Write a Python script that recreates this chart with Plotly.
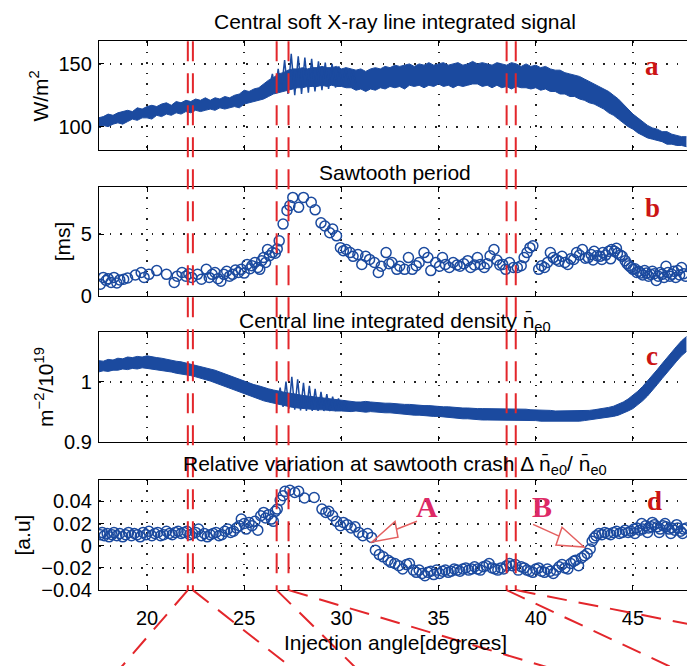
import plotly.graph_objects as go

# ---------------------------------------------------------------- data
# Injection angle grid (degrees) for the continuous signals
sig_x = [17.5, 17.75, 18.0, 18.25, 18.5, 18.75, 19.0, 19.25, 19.5, 19.75, 20.0, 20.25,
         20.5, 20.75, 21.0, 21.25, 21.5, 21.75, 22.0, 22.25, 22.5, 22.75, 23.0, 23.25,
         23.5, 23.75, 24.0, 24.25, 24.5, 24.75, 25.0, 25.25, 25.5, 25.75, 26.0, 26.25,
         26.5, 26.75, 27.0, 27.25, 27.5, 27.75, 28.0, 28.25, 28.5, 28.75, 29.0, 29.25,
         29.5, 29.75, 30.0, 30.25, 30.5, 30.75, 31.0, 31.25, 31.5, 31.75, 32.0, 32.25,
         32.5, 32.75, 33.0, 33.25, 33.5, 33.75, 34.0, 34.25, 34.5, 34.75, 35.0, 35.25,
         35.5, 35.75, 36.0, 36.25, 36.5, 36.75, 37.0, 37.25, 37.5, 37.75, 38.0, 38.25,
         38.5, 38.75, 39.0, 39.25, 39.5, 39.75, 40.0, 40.25, 40.5, 40.75, 41.0, 41.25,
         41.5, 41.75, 42.0, 42.25, 42.5, 42.75, 43.0, 43.25, 43.5, 43.75, 44.0, 44.25,
         44.5, 44.75, 45.0, 45.25, 45.5, 45.75, 46.0, 46.25, 46.5, 46.75, 47.0, 47.25,
         47.5, 47.75]

# (a) soft X-ray signal, lower / upper edge of the noisy trace [W/m^2]
sxr_lo = [99, 101, 100, 102, 103, 102, 104, 106, 105, 107, 107, 106,
          109, 108, 110, 109, 111, 110, 112, 111, 113, 112, 113, 114,
          113, 115, 114, 115, 116, 115, 118, 119, 120, 121, 122, 124,
          126, 127, 128, 129, 130, 131, 131, 132, 132, 132, 133, 132,
          133, 132, 132, 131, 131, 129, 130, 128, 130, 129, 131, 130,
          132, 131, 132, 130, 133, 132, 133, 131, 133, 132, 134, 132,
          133, 131, 133, 132, 133, 134, 134, 132, 133, 131, 133, 131,
          132, 130, 132, 131, 131, 130, 131, 129, 130, 128, 128, 126,
          126, 124, 124, 122, 121, 119, 118, 116, 114, 111, 109, 106,
          103, 100, 98, 95, 93, 91, 90, 89, 88, 86, 86, 85,
          85, 84]
sxr_hi = [107, 108, 110, 109, 111, 112, 113, 112, 115, 114, 116, 117,
          116, 118, 119, 117, 120, 119, 121, 120, 122, 121, 123, 121,
          123, 122, 124, 123, 125, 126, 129, 128, 130, 131, 134, 137,
          139, 142, 143, 145, 146, 146, 147, 146, 147, 147, 148, 147,
          147, 148, 146, 147, 146, 145, 146, 144, 146, 147, 146, 148,
          147, 149, 148, 149, 150, 148, 150, 149, 151, 149, 150, 151,
          149, 150, 151, 149, 150, 152, 150, 151, 150, 149, 151, 150,
          149, 151, 150, 148, 150, 148, 149, 147, 148, 146, 145, 145,
          143, 142, 141, 140, 138, 136, 134, 132, 130, 128, 125, 122,
          118, 114, 110, 107, 104, 101, 99, 98, 96, 96, 94, 93,
          92, 92]
# sawtooth oscillation on the soft X-ray signal (alternating crest / crash)
sxr_osc_x = [26.3, 26.45, 26.6, 26.75, 26.9, 27.08, 27.25, 27.42, 27.6, 27.78, 27.95,
             28.12, 28.3, 28.47, 28.64, 28.82, 29.0, 29.17, 29.34, 29.52, 29.7, 29.87,
             30.05, 30.22, 30.4, 30.57, 30.75]
sxr_osc_y = [132, 142, 130, 146, 128, 153, 126, 158, 125, 156, 126, 155, 127, 154, 128,
             152, 129, 151, 130, 150, 131, 148, 132, 147, 133, 145, 134]

# (b) sawtooth period [ms]
st_x = [17.6, 17.75, 17.9, 18.0, 18.15, 18.3, 18.45, 18.6, 18.8, 19.0, 19.4, 19.7,
        19.85, 20.1, 20.5, 21.0, 21.4, 21.55, 21.8, 22.0, 22.15, 22.3, 22.6, 22.8,
        23.05, 23.2, 23.35, 23.5, 23.65, 23.8, 23.95, 24.1, 24.25, 24.4, 24.55, 24.7,
        24.85, 25.0, 25.15, 25.3, 25.4, 25.55, 25.7, 25.8, 25.9, 26.0, 26.1, 26.2,
        26.3, 26.45, 26.6, 26.7, 26.8, 27.0, 27.2, 27.35, 27.5, 27.8, 28.05, 28.45,
        28.65, 28.95, 29.15, 29.4, 29.55, 29.75, 29.95, 30.1, 30.25, 30.45, 30.6,
        30.85, 31.05, 31.25, 31.45, 31.7, 31.9, 32.05, 32.3, 32.45, 32.6, 32.85, 33.0,
        33.25, 33.45, 33.65, 33.85, 34.0, 34.25, 34.45, 34.6, 34.85, 35.05, 35.2,
        35.35, 35.55, 35.75, 35.95, 36.1, 36.3, 36.5, 36.65, 36.85, 37.0, 37.15,
        37.35, 37.5, 37.65, 37.85, 38.0, 38.15, 38.3, 38.45, 38.65, 38.85, 39.05,
        39.25, 39.4, 39.55, 39.7, 39.85, 40.15, 40.3, 40.45, 40.6, 40.75, 40.9, 41.05,
        41.2, 41.35, 41.5, 41.65, 41.8, 41.95, 42.1, 42.25, 42.4, 42.55, 42.7, 42.85,
        42.95, 43.0, 43.15, 43.3, 43.4, 43.45, 43.6, 43.75, 43.85, 43.9, 44.05, 44.15,
        44.2, 44.35, 44.45, 44.6, 44.7, 44.8, 44.9, 45.0, 45.1, 45.2, 45.3, 45.4,
        45.5, 45.6, 45.7, 45.8, 45.9, 46.0, 46.1, 46.2, 46.3, 46.4, 46.5, 46.6, 46.7,
        46.8, 46.9, 47.0, 47.1, 47.2, 47.3, 47.4, 47.5, 47.6, 47.7]
st_ms = [0.95, 1.5, 1.25, 1.4, 1.1, 1.5, 1.05, 1.3, 1.35, 1.45, 1.7, 1.9,
         1.5, 1.75, 2.05, 1.75, 1.1, 1.6, 1.9, 1.6, 1.8, 1.5, 1.75, 1.35,
         2.15, 1.5, 1.75, 1.9, 1.4, 1.2, 1.75, 2.0, 1.6, 1.75, 2.1, 1.9,
         2.15, 1.85, 2.55, 2.2, 2.45, 2.7, 2.3, 2.15, 2.85, 3.1, 2.7, 3.75,
         3.25, 3.5, 3.45, 3.8, 4.45, 5.8, 6.9, 7.3, 7.95, 7.15, 7.95, 7.55,
         6.95, 5.9, 5.65, 5.1, 5.4, 4.85, 3.9, 3.65, 3.75, 3.5, 3.2,
         3.35, 2.55, 3.2, 2.95, 2.7, 1.9, 2.4, 3.5, 2.6, 2.7, 2.15, 2.4,
         2.15, 3.1, 2.15, 2.45, 2.7, 3.5, 3.1, 2.05, 2.7, 2.4, 3.1,
         2.55, 2.3, 2.7, 2.5, 2.4, 2.6, 2.85, 2.3, 2.5, 3.1, 2.55,
         2.3, 2.6, 3.25, 3.75, 2.9, 2.5, 2.55, 2.15, 2.7, 2.3, 2.3,
         2.45, 3.1, 3.5, 3.9, 4.05, 2.15, 2.45, 2.3, 2.7, 3.5, 3.1, 2.95,
         2.8, 3.2, 2.7, 2.55, 3.0, 2.95, 3.5, 3.3, 3.75, 3.05, 3.1, 3.35,
         2.9, 3.6, 3.25, 3.2, 2.95, 3.5, 3.3, 3.6, 3.0, 3.75, 3.6, 3.85,
         3.45, 3.3, 3.2, 2.85, 2.6, 2.45, 2.3, 2.15, 2.2, 1.9, 2.0, 1.85,
         1.7, 2.05, 1.85, 1.6, 1.75, 2.0, 1.8, 1.25, 1.6, 1.9, 1.75, 1.5, 2.4,
         1.9, 1.6, 1.75, 2.0, 1.5, 2.05, 1.7, 2.3, 1.8, 1.6]

# (c) central line integrated density, lower / upper edge [1e19 m^-2]
ne_lo = [1.016, 1.018, 1.017, 1.019, 1.019, 1.021, 1.020, 1.022, 1.021, 1.023, 1.022, 1.021,
         1.020, 1.019, 1.018, 1.016, 1.014, 1.013, 1.011, 1.010, 1.008, 1.006, 1.004, 1.001,
         0.998, 0.995, 0.992, 0.988, 0.985, 0.982, 0.979, 0.976, 0.973, 0.970, 0.968, 0.966,
         0.964, 0.962, 0.960, 0.958, 0.957, 0.956, 0.955, 0.954, 0.954, 0.953, 0.953, 0.952,
         0.952, 0.951, 0.951, 0.950, 0.950, 0.951, 0.950, 0.949, 0.950, 0.949, 0.949, 0.948,
         0.948, 0.947, 0.946, 0.946, 0.945, 0.944, 0.944, 0.943, 0.943, 0.942, 0.942, 0.941,
         0.940, 0.940, 0.939, 0.938, 0.938, 0.937, 0.937, 0.936, 0.936, 0.936, 0.936, 0.935,
         0.936, 0.936, 0.936, 0.935, 0.936, 0.935, 0.935, 0.934, 0.934, 0.933, 0.933, 0.933,
         0.933, 0.933, 0.934, 0.934, 0.935, 0.936, 0.937, 0.938, 0.939, 0.940, 0.942, 0.944,
         0.947, 0.951, 0.955, 0.961, 0.968, 0.976, 0.985, 0.995, 1.005, 1.015, 1.025, 1.034,
         1.043, 1.050]
ne_hi = [1.035, 1.034, 1.037, 1.036, 1.039, 1.038, 1.041, 1.040, 1.042, 1.041, 1.043, 1.041,
         1.040, 1.039, 1.037, 1.036, 1.034, 1.033, 1.031, 1.030, 1.028, 1.026, 1.024, 1.022,
         1.019, 1.016, 1.013, 1.010, 1.007, 1.003, 1.000, 0.998, 0.995, 0.993, 0.990, 0.988,
         0.986, 0.984, 0.983, 0.981, 0.980, 0.978, 0.977, 0.976, 0.975, 0.973, 0.972, 0.971,
         0.970, 0.969, 0.968, 0.968, 0.967, 0.966, 0.966, 0.967, 0.966, 0.965, 0.965, 0.964,
         0.964, 0.963, 0.963, 0.962, 0.962, 0.961, 0.961, 0.960, 0.960, 0.959, 0.959, 0.958,
         0.958, 0.957, 0.957, 0.956, 0.956, 0.955, 0.955, 0.955, 0.955, 0.954, 0.954, 0.954,
         0.954, 0.955, 0.954, 0.954, 0.954, 0.953, 0.953, 0.953, 0.952, 0.952, 0.951, 0.951,
         0.951, 0.951, 0.951, 0.951, 0.952, 0.952, 0.953, 0.954, 0.956, 0.957, 0.959, 0.962,
         0.966, 0.971, 0.977, 0.984, 0.992, 1.001, 1.010, 1.020, 1.030, 1.040, 1.050, 1.059,
         1.068, 1.075]
ne_osc_x = [26.7, 26.85, 27.0, 27.15, 27.3, 27.45, 27.6, 27.75, 27.9, 28.05, 28.2,
            28.35, 28.5, 28.65, 28.8, 28.95, 29.1, 29.25, 29.4, 29.55, 29.7, 29.85,
            30.0, 30.15, 30.3]
ne_osc_y = [0.965, 0.990, 0.958, 1.000, 0.955, 1.008, 0.953, 1.004, 0.952, 0.998, 0.951,
            0.993, 0.951, 0.988, 0.951, 0.983, 0.951, 0.979, 0.951, 0.975, 0.951, 0.972,
            0.952, 0.969, 0.953]

# (d) relative density drop at the sawtooth crash [a.u.]
dn_x = [17.6, 17.7, 17.8, 17.95, 18.05, 18.2, 18.3, 18.45, 18.6, 18.75, 18.9, 19.05,
        19.2, 19.35, 19.5, 19.65, 19.8, 19.95, 20.1, 20.25, 20.4, 20.55, 20.7, 20.85,
        21.0, 21.15, 21.3, 21.45, 21.6, 21.75, 21.9, 22.05, 22.2, 22.35, 22.5, 22.65,
        22.8, 22.95, 23.1, 23.25, 23.4, 23.55, 23.7, 23.85, 24.0, 24.15, 24.3, 24.45,
        24.6, 24.75, 24.85, 25.0, 25.1, 25.25, 25.4, 25.55, 25.7, 25.85, 26.0, 26.1,
        26.25, 26.4, 26.5, 26.6, 26.7, 26.85, 27.0, 27.1, 27.35, 27.6, 27.8, 28.1,
        28.6, 29.0, 29.2, 29.35, 29.55, 29.75, 29.95, 30.1, 30.3, 30.5, 30.7, 30.9,
        31.1, 31.35, 31.55, 31.75, 31.95, 32.15, 32.4, 32.55, 32.75, 32.95, 33.15,
        33.35, 33.5, 33.7, 33.85, 34.0, 34.15, 34.3, 34.45, 34.6, 34.75, 34.9, 35.05,
        35.2, 35.35, 35.5, 35.65, 35.8, 35.95, 36.1, 36.25, 36.4, 36.55, 36.7, 36.85,
        37.0, 37.15, 37.3, 37.45, 37.6, 37.75, 37.9, 38.05, 38.2, 38.35, 38.5, 38.65,
        38.8, 38.95, 39.1, 39.25, 39.4, 39.55, 39.7, 39.85, 40.0, 40.15, 40.3, 40.45,
        40.6, 40.75, 40.9, 41.05, 41.2, 41.35, 41.5, 41.65, 41.8, 41.95, 42.05, 42.2,
        42.35, 42.5, 42.65, 42.8, 42.9, 43.0, 43.1, 43.25, 43.4, 43.55, 43.7, 43.85,
        44.0, 44.15, 44.3, 44.45, 44.6, 44.75, 44.9, 45.05, 45.1, 45.2, 45.35, 45.45,
        45.5, 45.65, 45.75, 45.8, 45.95, 46.0, 46.1, 46.25, 46.35, 46.4, 46.55, 46.65,
        46.7, 46.85, 46.95, 47.0, 47.15, 47.25, 47.3, 47.45, 47.55, 47.6, 47.75]
dn_val = [0.010, 0.012, 0.009, 0.011, 0.008, 0.010, 0.012, 0.009, 0.011, 0.008, 0.010, 0.012,
          0.009, 0.011, 0.010, 0.008, 0.012, 0.010, 0.013, 0.009, 0.011, 0.012, 0.009, 0.010,
          0.013, 0.011, 0.010, 0.012, 0.013, 0.011, 0.012, 0.013, 0.010, 0.011, 0.012, 0.015,
          0.009, 0.011, 0.008, 0.010, 0.011, 0.012, 0.009, 0.010, 0.013, 0.015, 0.012, 0.013,
          0.016, 0.018, 0.024, 0.020, 0.015, 0.021, 0.018, 0.022, 0.014, 0.027, 0.030, 0.025,
          0.028, 0.024, 0.022, 0.031, 0.033, 0.041, 0.045, 0.049, 0.050, 0.048, 0.049, 0.043,
          0.0435, 0.033, 0.030, 0.031, 0.027, 0.022, 0.018, 0.021, 0.019, 0.016, 0.017, 0.012,
          0.009, 0.011, 0.0075, -0.004, -0.008, -0.010, -0.013, -0.015, -0.016, -0.018, -0.021,
          -0.017, -0.016, -0.022, -0.024, -0.022, -0.025, -0.027, -0.024, -0.023, -0.026, -0.022, -0.025,
          -0.023, -0.022, -0.024, -0.023, -0.021, -0.022, -0.023, -0.021, -0.020, -0.022, -0.021, -0.019,
          -0.021, -0.022, -0.019, -0.018, -0.016, -0.020, -0.021, -0.022, -0.020, -0.021, -0.018, -0.016,
          -0.018, -0.017, -0.022, -0.019, -0.020, -0.022, -0.023, -0.024, -0.021, -0.020, -0.023, -0.024,
          -0.021, -0.023, -0.025, -0.022, -0.019, -0.017, -0.020, -0.021, -0.016, -0.014, -0.013, -0.018,
          -0.011, -0.009, -0.007, -0.003, 0.004, 0.007, 0.009, 0.011, 0.010, 0.012, 0.011, 0.010,
          0.012, 0.013, 0.011, 0.012, 0.014, 0.012, 0.013, 0.015, 0.011, 0.016, 0.014, 0.020,
          0.015, 0.018, 0.012, 0.016, 0.017, 0.021, 0.019, 0.017, 0.012, 0.015, 0.018, 0.020,
          0.017, 0.015, 0.011, 0.016, 0.014, 0.019, 0.016, 0.013, 0.011, 0.015, 0.016]

# Injection angles marked by the red dashed guides
guide_angles = [22.1, 22.36, 26.67, 27.28, 38.5, 38.97]

x_ticks = [20, 25, 30, 35, 40, 45]

# ---------------------------------------------------------------- styling
W, H = 687, 666
FONT = "Liberation Sans"
SERIF = "Liberation Serif"
BLUE = "#1b4a9f"
RED = "#e3262b"
LABEL_RED = "#cc1414"
ARROW_RED = "#e46060"
PINK = "#de2a66"
X_RANGE = [17.53, 47.78]
X_DOM = [99 / W, 1.0]

# panel extents in pixels from the top of the page
panel_px = [(42, 153), (190, 301), (338, 449), (488, 600)]


def ydom(top, bottom):
    return [1 - bottom / H, 1 - top / H]


def paper_x(deg):
    return X_DOM[0] + (deg - X_RANGE[0]) / (X_RANGE[1] - X_RANGE[0]) * (X_DOM[1] - X_DOM[0])


fig = go.Figure()


def band(xs, lo, hi, ax, ay):
    fig.add_trace(go.Scatter(x=xs, y=lo, mode="lines", line=dict(color=BLUE, width=1),
                             xaxis=ax, yaxis=ay, showlegend=False, hoverinfo="skip"))
    fig.add_trace(go.Scatter(x=xs, y=hi, mode="lines", line=dict(color=BLUE, width=1),
                             fill="tonexty", fillcolor=BLUE,
                             xaxis=ax, yaxis=ay, showlegend=False, hoverinfo="skip"))


def circles(xs, ys, ax, ay):
    fig.add_trace(go.Scatter(x=xs, y=ys, mode="markers",
                             marker=dict(symbol="circle-open", size=10, color=BLUE,
                                         line=dict(width=1.5, color=BLUE)),
                             xaxis=ax, yaxis=ay, showlegend=False))


band(sig_x, sxr_lo, sxr_hi, "x", "y")
fig.add_trace(go.Scatter(x=sxr_osc_x, y=sxr_osc_y, mode="lines",
                         line=dict(color=BLUE, width=1.5), xaxis="x", yaxis="y",
                         showlegend=False))
circles(st_x, st_ms, "x2", "y2")
band(sig_x, ne_lo, ne_hi, "x3", "y3")
fig.add_trace(go.Scatter(x=ne_osc_x, y=ne_osc_y, mode="lines",
                         line=dict(color=BLUE, width=1.5), xaxis="x3", yaxis="y3",
                         showlegend=False))
circles(dn_x, dn_val, "x4", "y4")

tickfont = dict(family=FONT, size=20, color="black")
common = dict(showline=True, linecolor="black", linewidth=1.3, ticks="inside", ticklen=5,
              tickwidth=1, tickcolor="black", showgrid=True, gridcolor="#222222",
              gridwidth=1.5, griddash="1.5px,9px", zeroline=False, tickfont=tickfont)

y_specs = [
    dict(range=[81, 168], tickvals=[100, 150], title="W/m<sup>2</sup>"),
    dict(range=[0, 8.8], tickvals=[0, 5], title="[ms]"),
    dict(range=[0.9, 1.082], tickvals=[0.9, 1.0], ticktext=["0.9", "1"],
         title="m<sup>−2</sup>/10<sup>19</sup>"),
    dict(range=[-0.04, 0.0593], tickvals=[-0.04, -0.02, 0, 0.02, 0.04],
         ticktext=["−0.04", "−0.02", "0", "0.02", "0.04"], title="[a.u]"),
]

layout = dict(width=W, height=H, margin=dict(l=0, r=0, t=0, b=0),
              paper_bgcolor="white", plot_bgcolor="white", showlegend=False)
for i, ((top, bot), spec) in enumerate(zip(panel_px, y_specs), start=1):
    sfx = "" if i == 1 else str(i)
    layout["xaxis" + sfx] = dict(common, range=X_RANGE, domain=X_DOM, tickvals=x_ticks,
                                 mirror="ticks", anchor="y" + sfx,
                                 showticklabels=(i == 4), ticklabelstandoff=10)
    yax = dict(common, range=spec["range"], domain=ydom(top, bot),
               tickvals=spec["tickvals"], mirror=False, anchor="x" + sfx,
               ticklabelstandoff=2,
               title=dict(text=spec["title"], font=dict(family=FONT, size=21, color="black"),
                          standoff=4))
    if "ticktext" in spec:
        yax["ticktext"] = spec["ticktext"]
    layout["yaxis" + sfx] = yax
fig.update_layout(**layout)

# panel titles and axis label
titles = [
    ("Central soft X-ray line integrated signal", 22),
    ("Sawtooth period", 175),
    ("Central line integrated density n\u0304<sub>e0</sub>", 327),
    ("Relative variation at sawtooth crash Δ n\u0304<sub>e0</sub>/ n\u0304<sub>e0</sub>", 473),
    ("Injection angle[degrees]", 653),
]
for text, ypx in titles:
    fig.add_annotation(text=text, xref="paper", yref="paper", x=395 / W, y=1 - ypx / H,
                       xanchor="center", yanchor="middle", showarrow=False,
                       font=dict(family=FONT, size=21, color="black"))

# panel letters
letters = [("a", "x", "y", 46.0, 148.5), ("b", "x2", "y2", 46.0, 7.1),
           ("c", "x3", "y3", 46.0, 1.042), ("d", "x4", "y4", 46.1, 0.040)]
for t, ax, ay, lx, ly in letters:
    fig.add_annotation(text="<b>%s</b>" % t, xref=ax, yref=ay, x=lx, y=ly,
                       showarrow=False, font=dict(family=SERIF, size=27, color=LABEL_RED))

# transition markers A and B with open arrow heads
marks = [
    dict(label="A", at=(34.4, 0.0353), tip=(31.57, 0.0033),
         base=((32.76, 0.0219), (32.91, 0.0077)), tail=(33.89, 0.022)),
    dict(label="B", at=(40.32, 0.0353), tip=(42.48, -0.0012),
         base=((41.35, 0.0166), (41.04, 0.0006)), tail=(39.86, 0.0193)),
]
for m in marks:
    fig.add_annotation(text="<b>%s</b>" % m["label"], xref="x4", yref="y4",
                       x=m["at"][0], y=m["at"][1], showarrow=False,
                       font=dict(family=SERIF, size=30, color=PINK))
    (b1x, b1y), (b2x, b2y) = m["base"]
    tx, ty = m["tip"]
    fig.add_shape(type="path", xref="x4", yref="y4",
                  path="M %f %f L %f %f L %f %f Z" % (tx, ty, b1x, b1y, b2x, b2y),
                  line=dict(color=ARROW_RED, width=1.5), fillcolor="rgba(0,0,0,0)")
    fig.add_shape(type="line", xref="x4", yref="y4",
                  x0=(b1x + b2x) / 2, y0=(b1y + b2y) / 2, x1=m["tail"][0], y1=m["tail"][1],
                  line=dict(color=ARROW_RED, width=1.5))

# vertical dashed guides through all panels
y_top = 1 - panel_px[0][0] / H
y_bot = 1 - panel_px[3][1] / H
for g in guide_angles:
    fig.add_shape(type="line", xref="x", yref="paper", x0=g, x1=g, y0=y_top, y1=y_bot,
                  line=dict(color=RED, width=2, dash="20px,12px"))

# diverging dashed guides below the angle axis (horizontal run per pixel of drop)
fan_run = [-0.85, 1.25, 1.0, 3.3, 2.1, 5.0]
drop_px = 90
for g, run in zip(guide_angles, fan_run):
    x0 = paper_x(g)
    fig.add_shape(type="line", xref="paper", yref="paper",
                  x0=x0, y0=y_bot, x1=x0 + run * drop_px / W, y1=y_bot - drop_px / H,
                  line=dict(color=RED, width=2, dash="20px,12px"))

fig.write_html("out.html")
